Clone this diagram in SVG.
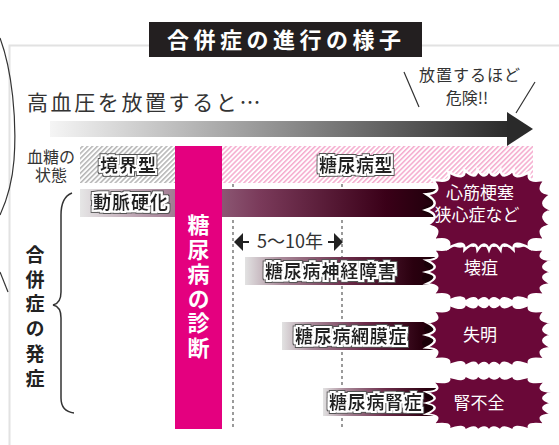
<svg xmlns="http://www.w3.org/2000/svg" xmlns:xlink="http://www.w3.org/1999/xlink" width="559" height="445" viewBox="0 0 559 445">
<style>
text{font-family:"Noto Sans CJK JP","Noto Sans",sans-serif}
.lbl{font-size:18px;font-weight:700;fill:#222;filter:url(#halo)}
.bt{font-size:17px;fill:#fff;text-anchor:middle}
.burst{fill:#6a0838;stroke:#fff;stroke-width:2.5;vector-effect:non-scaling-stroke}
.drip{fill:#1a0008}
.dash{stroke:#666;stroke-width:1.3;stroke-dasharray:3 3;fill:none}
.vert{writing-mode:vertical-rl;font-weight:700}
</style>
<defs>
<filter id="halo" x="-10%" y="-40%" width="120%" height="180%">
<feMorphology in="SourceAlpha" operator="dilate" radius="2.8" result="d3"/>
<feFlood flood-color="#555"/><feComposite in2="d3" operator="in" result="o3"/>
<feMorphology in="SourceAlpha" operator="dilate" radius="2" result="d2"/>
<feFlood flood-color="#fff"/><feComposite in2="d2" operator="in" result="o2"/>
<feMerge><feMergeNode in="o3"/><feMergeNode in="o2"/><feMergeNode in="SourceGraphic"/></feMerge>
</filter>
<linearGradient id="arrowGrad" x1="50" y1="0" x2="510" y2="0" gradientUnits="userSpaceOnUse">
<stop offset="0" stop-color="#f5f5f5"/><stop offset="1" stop-color="#2a2a2a"/>
</linearGradient>
<linearGradient id="barA" x1="80" y1="0" x2="440" y2="0" gradientUnits="userSpaceOnUse">
<stop offset="0" stop-color="#e6e6e6"/><stop offset="0.12" stop-color="#c6b2bd"/><stop offset="0.27" stop-color="#a07890"/><stop offset="0.5" stop-color="#7a3a5a"/><stop offset="0.85" stop-color="#3a0018"/><stop offset="1" stop-color="#1e000a"/>
</linearGradient>
<linearGradient id="barB" x1="0" y1="0" x2="1" y2="0">
<stop offset="0" stop-color="#e2e2e2"/><stop offset="0.18" stop-color="#a88898"/><stop offset="0.5" stop-color="#6a2a48"/><stop offset="0.82" stop-color="#2a000f"/><stop offset="1" stop-color="#150005"/>
</linearGradient>
<pattern id="hatchGray" width="3.5" height="3.5" patternUnits="userSpaceOnUse" patternTransform="rotate(45)">
<rect width="3.5" height="3.5" fill="#fff"/><line x1="0.8" y1="0" x2="0.8" y2="3.5" stroke="#a8a8a8" stroke-width="1.3"/>
</pattern>
<pattern id="hatchPink" width="3.5" height="3.5" patternUnits="userSpaceOnUse" patternTransform="rotate(45)">
<rect width="3.5" height="3.5" fill="#fff"/><line x1="0.8" y1="0" x2="0.8" y2="3.5" stroke="#f49cc6" stroke-width="1.3"/>
</pattern>
<path id="burstShape" d="M63,0 Q45.8,5.6 62.6,15.8 Q44.4,17.2 56.7,30.7 Q35.9,25.8 40.7,38.1 Q23.4,28.6 24.5,39.8 Q12.8,29.1 11.5,40 Q4.1,29.1 0,40 Q-4.1,29.1 -11.5,40 Q-12.8,29.1 -24.5,39.8 Q-23.4,28.6 -40.7,38.1 Q-35.9,25.8 -56.7,30.7 Q-44.4,17.2 -62.6,15.8 Q-45.8,5.6 -63,0 Q-45.8,-5.6 -62.6,-15.8 Q-44.4,-17.2 -56.7,-30.7 Q-35.9,-25.8 -40.7,-38.1 Q-23.4,-28.6 -24.5,-39.8 Q-12.8,-29.1 -11.5,-40 Q-4.1,-29.1 0,-40 Q4.1,-29.1 11.5,-40 Q12.8,-29.1 24.5,-39.8 Q23.4,-28.6 40.7,-38.1 Q35.9,-25.8 56.7,-30.7 Q44.4,-17.2 62.6,-15.8 Q45.8,-5.6 63,0Z"/>
</defs>

<rect width="559" height="445" fill="#fff"/>
<rect id="panel" x="9.5" y="45.5" width="560" height="410" fill="#fff" stroke="#e2e2e2" stroke-width="2"/>

<g id="bubble" fill="none" stroke="#333" stroke-width="1.2">
<path d="M0,38 C12,70 17,120 14,160 C12,185 7,200 0,215"/>
<path d="M0,272 L8,292"/>
</g>

<g id="title">
<rect x="149" y="22" width="273" height="35" fill="#231f20"/>
<text x="167" y="48" font-size="22" font-weight="700" fill="#fff" letter-spacing="4.5">合併症の進行の様子</text>
</g>

<g id="heading">
<text x="27" y="110" font-size="21" fill="#333" letter-spacing="2.6">高血圧を放置すると…</text>
</g>

<g id="progressArrow">
<rect x="50" y="121" width="460" height="16" fill="url(#arrowGrad)"/>
<polygon points="507,112 533,129 507,146" fill="#2a2a2a"/>
</g>

<g id="warning">
<text font-size="16" fill="#333" text-anchor="middle"><tspan x="470" y="81" letter-spacing="1">放置するほど</tspan><tspan x="467" y="104">危険!!</tspan></text>
<path d="M404,72 L419,107 M535,82 L516,113" stroke="#333" stroke-width="1.2" fill="none"/>
</g>

<g id="glucoseLabel">
<text font-size="16" fill="#333" text-anchor="middle"><tspan x="51" y="163">血糖の</tspan><tspan x="51" y="181">状態</tspan></text>
</g>

<g id="borderline">
<rect x="80" y="146" width="95" height="37" fill="url(#hatchGray)"/>
<text class="lbl" x="100" y="172" letter-spacing="1">境界型</text>
</g>

<g id="diabetesType">
<rect x="222" y="146" width="311" height="37" fill="url(#hatchPink)"/>
<text class="lbl" x="319" y="172" letter-spacing="0.5">糖尿病型</text>
</g>

<g id="connectors">
<path class="dash" d="M233,184 V429 M342,184 V429"/>
<g id="period" fill="#222" stroke="#222">
<polygon points="234,242 243,233 243,251" stroke="none"/>
<line x1="242" y1="242" x2="249" y2="242" stroke-width="2"/>
<polygon points="343,242 334,233 334,251" stroke="none"/>
<line x1="328" y1="242" x2="335" y2="242" stroke-width="2"/>
</g>
</g>
<text id="periodLabel" x="290" y="248" font-size="18" fill="#333" text-anchor="middle">5〜10年</text>

<g id="atherosclerosis">
<rect x="80" y="189" width="370" height="28" fill="url(#barA)"/>
<ellipse class="drip" cx="438" cy="196" rx="14" ry="6"/>
<ellipse class="drip" cx="436" cy="210" rx="14" ry="6"/>
<text class="lbl" x="93" y="209" font-size="17" letter-spacing="1">動脈硬化</text>
</g>

<g id="neuropathy">
<rect x="245" y="257" width="205" height="28" fill="url(#barB)"/>
<ellipse class="drip" cx="438" cy="264" rx="14" ry="6"/>
<ellipse class="drip" cx="436" cy="278" rx="14" ry="6"/>
<text class="lbl" x="265" y="278" font-size="17.5" letter-spacing="0.8">糖尿病神経障害</text>
</g>

<g id="retinopathy">
<rect x="282" y="322" width="168" height="28" fill="url(#barB)"/>
<ellipse class="drip" cx="438" cy="329" rx="14" ry="6"/>
<ellipse class="drip" cx="436" cy="343" rx="14" ry="6"/>
<text class="lbl" x="295" y="343" letter-spacing="0.7">糖尿病網膜症</text>
</g>

<g id="nephropathy">
<rect x="323" y="388" width="127" height="28" fill="url(#barB)"/>
<ellipse class="drip" cx="438" cy="395" rx="14" ry="6"/>
<ellipse class="drip" cx="436" cy="409" rx="14" ry="6"/>
<text class="lbl" x="329" y="409" letter-spacing="0.7">糖尿病腎症</text>
</g>

<g id="diagnosis">
<rect x="175" y="146" width="47" height="283" fill="#e4007f"/>
<text class="vert" x="198.5" y="214" font-size="22" fill="#fff" letter-spacing="2.5">糖尿病の診断</text>
</g>

<g id="complications">
<path d="M72,193 C64,196 61,204 61,215 L61,292 C61,300 58,304 53,305 C58,306 61,310 61,318 L61,398 C61,408 66,412 74,413" fill="none" stroke="#333" stroke-width="1.5"/>
<text class="vert" x="35" y="245" font-size="19" fill="#222" letter-spacing="5.8">合併症の発症</text>
</g>

<g id="renalFailure">
<use xlink:href="#burstShape" href="#burstShape" class="burst" transform="translate(489,403) scale(1,0.7)"/>
<text class="bt" x="479" y="409">腎不全</text>
</g>
<g id="blindness">
<use xlink:href="#burstShape" href="#burstShape" class="burst" transform="translate(489,335) scale(1,0.8)"/>
<text class="bt" x="480" y="341">失明</text>
</g>
<g id="gangrene">
<use xlink:href="#burstShape" href="#burstShape" class="burst" transform="translate(489,272) scale(1,0.75)"/>
<text class="bt" x="481" y="274">壊疽</text>
</g>
<g id="heartDisease">
<use xlink:href="#burstShape" href="#burstShape" class="burst" transform="translate(489,210)"/>
<text class="bt"><tspan x="480" y="199">心筋梗塞</tspan><tspan x="477" y="221">狭心症など</tspan></text>
</g>
</svg>
